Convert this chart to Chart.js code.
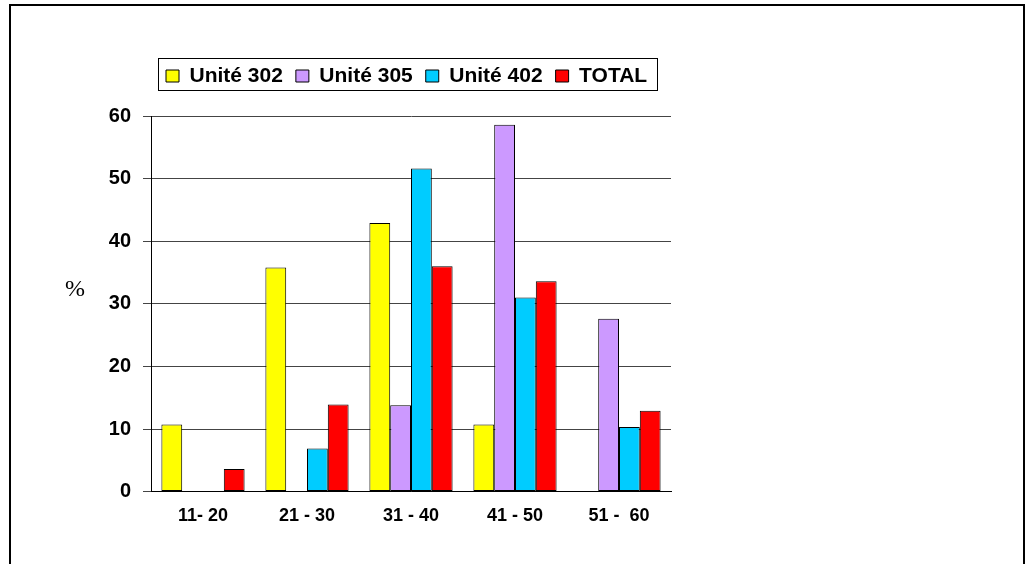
<!DOCTYPE html>
<html>
<head>
<meta charset="utf-8">
<script src="https://cdn.jsdelivr.net/npm/chart.js@4/dist/chart.umd.min.js"></script>
<style>
  html, body { margin: 0; padding: 0; background: #ffffff; }
  #wrap { position: relative; width: 1029px; height: 564px; }
</style>
</head>
<body>
<div id="wrap"><canvas id="c" width="1029" height="564"></canvas></div>
<script>
// Age groups and the share (%) of each unit in them
const categories = ['11- 20', '21 - 30', '31 - 40', '41 - 50', '51 -  60'];
const unit302 = [10.7, 35.8, 42.9, 10.7, null];
const unit305 = [null, null, 13.8, 58.6, 27.6];
const unit402 = [null, 6.9, 51.6, 31.0, 10.3];
const total   = [3.6, 13.9, 36.0, 33.6, 12.9];
const seriesNames = ['Unité 302', 'Unité 305', 'Unité 402', 'TOTAL'];
const seriesColors = ['#FFFF00', '#CC99FF', '#00CCFF', '#FF0000'];
const yTicks = [0, 10, 20, 30, 40, 50, 60];

const SANS = '"Liberation Sans", Arial, sans-serif';
const LEGEND_FONT = 21;
const LEGEND_PAD = 13;

// Frame, unit label and legend placement / outline
const decorations = {
  id: 'decorations',
  beforeDraw(chart) {
    const lg = chart.legend;
    if (lg) {
      const w = lg.right - lg.left;
      lg.left = 166 - LEGEND_PAD;
      lg.right = lg.left + w;
      lg.top = 76 - LEGEND_PAD - LEGEND_FONT / 2;
    }
  },
  afterDraw(chart) {
    const ctx = chart.ctx;
    ctx.save();
    // outer frame (open at the bottom)
    ctx.strokeStyle = '#000';
    ctx.lineWidth = 2;
    ctx.beginPath();
    ctx.moveTo(10, 564);
    ctx.lineTo(10, 5);
    ctx.lineTo(1024, 5);
    ctx.lineTo(1024, 564);
    ctx.stroke();
    // legend outline
    const lg = chart.legend;
    if (lg && lg.lineWidths) {
      const x0 = lg.left + LEGEND_PAD - 8;
      const x1 = lg.left + lg.lineWidths[0] + 10;
      ctx.lineWidth = 1;
      ctx.strokeRect(Math.round(x0) + 0.5, 58.5, Math.round(x1 - x0), 32);
    }
    // unit label
    ctx.fillStyle = '#000';
    ctx.font = '24px "Liberation Serif", "Times New Roman", serif';
    ctx.textAlign = 'center';
    ctx.textBaseline = 'middle';
    ctx.fillText('%', 75, 290);
    ctx.restore();
  }
};

const seriesData = [unit302, unit305, unit402, total];
const datasets = seriesNames.map((name, i) => ({
  label: name,
  data: seriesData[i],
  backgroundColor: seriesColors[i],
  borderColor: '#000',
  borderWidth: 1,
  borderSkipped: false,
  categoryPercentage: 0.8,
  barPercentage: 1.0
}));

new Chart(document.getElementById('c'), {
  type: 'bar',
  data: { labels: categories, datasets },
  options: {
    responsive: false,
    animation: false,
    events: [],
    // legend row takes LEGEND_FONT + LEGEND_PAD + 10 px above the plot
    layout: { padding: { left: 10, right: 358, top: 116 - (LEGEND_FONT + LEGEND_PAD + 10), bottom: 0 } },
    plugins: {
      tooltip: { enabled: false },
      title: { display: false },
      legend: {
        display: true,
        position: 'top',
        align: 'start',
        labels: {
          boxWidth: 13,
          boxHeight: 12,
          padding: LEGEND_PAD,
          color: '#000',
          font: { family: SANS, size: LEGEND_FONT, weight: 'bold' }
        }
      }
    },
    scales: {
      x: {
        grid: { display: false, drawTicks: false },
        border: { display: true, color: '#000', width: 1 },
        ticks: {
          color: '#000',
          padding: 14,
          maxRotation: 0,
          autoSkip: false,
          font: { family: SANS, size: 18, weight: 'bold' }
        },
        afterFit(scale) { scale.height = 564 - 491.6; }
      },
      y: {
        min: 0,
        max: 60,
        afterBuildTicks(scale) { scale.ticks = yTicks.map(v => ({ value: v })); },
        grid: { color: '#444', lineWidth: 1, drawTicks: true, tickLength: 8, tickColor: '#444' },
        border: { display: true, color: '#000', width: 1 },
        ticks: {
          color: '#000',
          padding: 12,
          font: { family: SANS, size: 20, weight: 'bold' }
        },
        afterFit(scale) { scale.width = 141; }
      }
    }
  },
  plugins: [decorations]
});
</script>
</body>
</html>
